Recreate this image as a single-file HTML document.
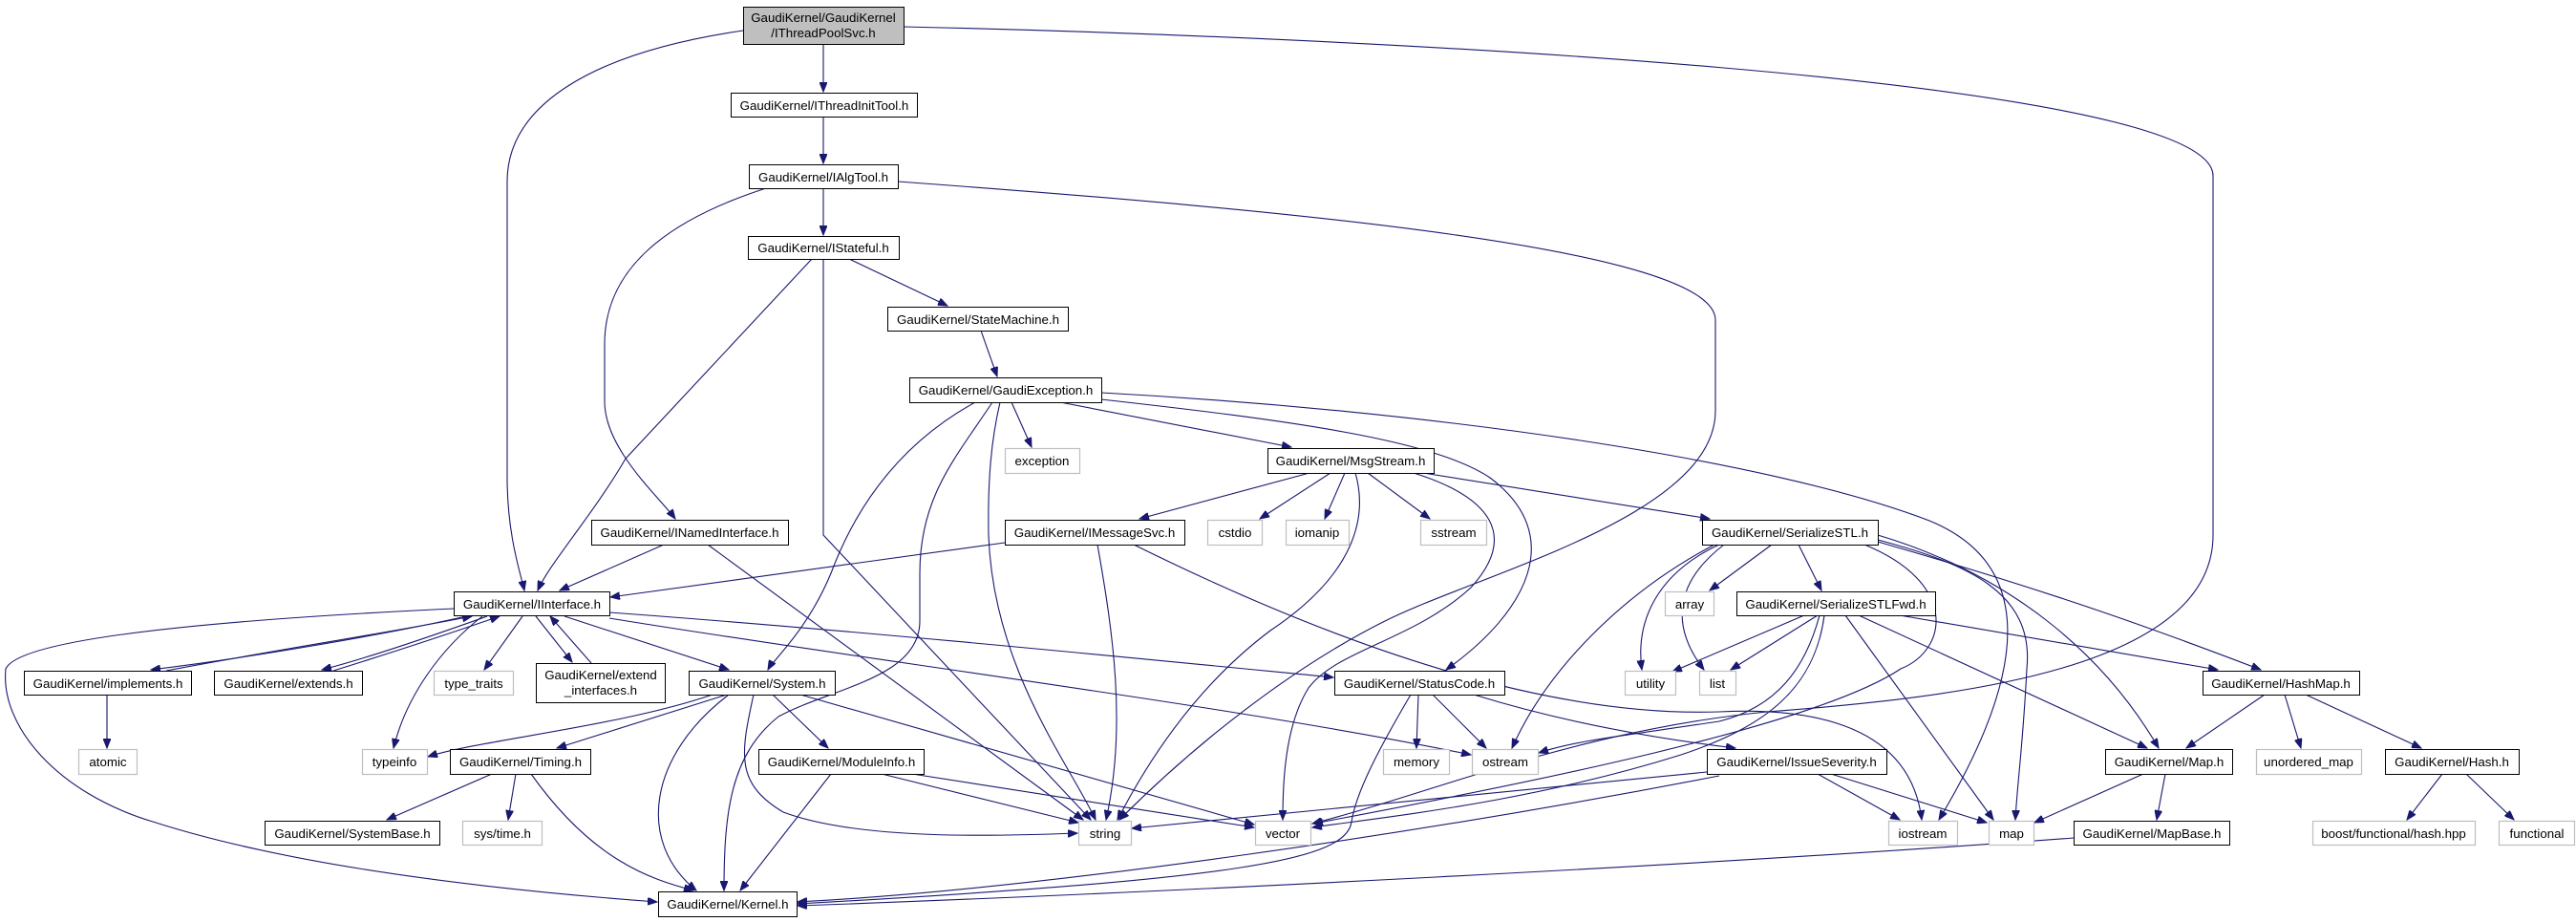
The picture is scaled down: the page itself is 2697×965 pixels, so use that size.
<!DOCTYPE html>
<html><head><meta charset="utf-8"><style>
html,body{margin:0;padding:0;background:#fff;}
svg{display:block;}
text{font-family:"Liberation Sans",Helvetica,Arial,sans-serif;font-size:13.3px;fill:#000;text-anchor:middle;}
.n{fill:#fff;stroke:#000;stroke-width:1;}
.x{fill:#fff;stroke:#bfbfbf;stroke-width:1.2;}
.r{fill:#bfbfbf;stroke:#000;stroke-width:1;}
path.e{fill:none;stroke:#191970;stroke-width:1.1;marker-end:url(#a);}
</style></head><body>
<svg width="2697" height="965" viewBox="0 0 2697 965" xmlns="http://www.w3.org/2000/svg">
<defs><marker id="a" markerUnits="userSpaceOnUse" markerWidth="11" markerHeight="8" refX="10" refY="4" orient="auto"><path d="M0,0 L10,4 L0,8 z" fill="#191970" stroke="#191970"/></marker></defs>
<g>
<path class="e" d="M862,47 L862,96"/>
<path class="e" d="M778,32 C620,55 531,110 531,190 L531,500 C531,560 545,600 549,618"/>
<path class="e" d="M946,28 C1400,38 2317,80 2317,184 L2317,560 C2317,700 2050,730 1850,745 C1650,765 1500,830 1374,862"/>
<path class="e" d="M862,122 L862,171"/>
<path class="e" d="M862,197 L862,246"/>
<path class="e" d="M802,197 C700,230 633,280 633,360 L633,420 C633,470 690,520 707,543"/>
<path class="e" d="M940,190 C1350,220 1796,260 1796,335 L1796,430 C1796,540 1550,600 1450,650 C1350,700 1250,780 1172,858"/>
<path class="e" d="M850,271 L655,480 C620,540 575,590 563,618"/>
<path class="e" d="M862,271 L862,560 L1142,858"/>
<path class="e" d="M889,271 L992,320"/>
<path class="e" d="M1027,346 L1044,394"/>
<path class="e" d="M1059,421 L1080,468"/>
<path class="e" d="M1110,421 L1352,468"/>
<path class="e" d="M1021,421 C950,460 900,520 870,600 C845,660 810,690 804,701"/>
<path class="e" d="M1039,421 C1000,480 963,520 963,600 L963,650 C963,710 870,720 815,750 C765,790 758,850 758,932"/>
<path class="e" d="M1047,421 C1038,460 1034,500 1035,560 C1040,700 1120,800 1147,858"/>
<path class="e" d="M1153,418 C1350,440 1500,460 1560,500 C1640,560 1600,640 1514,701"/>
<path class="e" d="M1153,411 C1500,430 1850,480 2020,545 C2130,590 2125,700 2030,858"/>
<path class="e" d="M1371,495 L1193,543"/>
<path class="e" d="M1393,495 L1319,543"/>
<path class="e" d="M1408,495 L1387,543"/>
<path class="e" d="M1432,495 L1497,543"/>
<path class="e" d="M1419,495 C1432,540 1420,600 1330,660 C1250,720 1200,800 1170,858"/>
<path class="e" d="M1480,495 C1560,520 1590,560 1540,615 C1480,670 1400,680 1370,720 C1345,760 1343,820 1343,858"/>
<path class="e" d="M1490,495 L1790,543"/>
<path class="e" d="M1052,568 L639,625"/>
<path class="e" d="M1149,570 C1165,660 1180,760 1158,858"/>
<path class="e" d="M1187,570 C1450,700 1650,750 1800,745 C1900,740 2000,760 2012,858"/>
<path class="e" d="M695,570 L586,618"/>
<path class="e" d="M741,570 L1134,858"/>
<path class="e" d="M488,645 C400,665 250,690 158,701"/>
<path class="e" d="M174,702 C290,680 420,660 494,645"/>
<path class="e" d="M510,645 C440,670 380,690 337,701"/>
<path class="e" d="M349,702 C420,680 480,660 523,645"/>
<path class="e" d="M547,645 L507,701"/>
<path class="e" d="M561,645 L599,693"/>
<path class="e" d="M619,694 L576,645"/>
<path class="e" d="M591,645 L763,701"/>
<path class="e" d="M505,645 C460,680 425,730 412,783"/>
<path class="e" d="M475,637 C200,650 20,670 6,700 C0,760 60,830 160,860 C300,905 500,930 688,944"/>
<path class="e" d="M638,641 C900,660 1200,690 1396,709"/>
<path class="e" d="M638,647 C900,690 1300,740 1540,790"/>
<path class="e" d="M112,727 L112,783"/>
<path class="e" d="M746,727 C650,760 500,775 448,792"/>
<path class="e" d="M761,727 L583,783"/>
<path class="e" d="M763,727 C680,790 665,880 729,932"/>
<path class="e" d="M789,727 C775,790 770,820 820,850 C900,880 1050,875 1128,872"/>
<path class="e" d="M809,727 L867,783"/>
<path class="e" d="M838,727 L1313,863"/>
<path class="e" d="M515,810 L405,858"/>
<path class="e" d="M540,810 L532,858"/>
<path class="e" d="M556,810 C620,900 680,920 726,932"/>
<path class="e" d="M870,810 L775,932"/>
<path class="e" d="M923,810 L1129,861"/>
<path class="e" d="M955,810 L1313,866"/>
<path class="e" d="M1485,727 L1483,783"/>
<path class="e" d="M1500,727 L1556,783"/>
<path class="e" d="M1477,727 C1440,790 1420,830 1415,860 C1410,900 1300,920 835,946"/>
<path class="e" d="M1543,727 C1650,760 1750,775 1817,783"/>
<path class="e" d="M1787,808 L1185,867"/>
<path class="e" d="M1903,810 L1989,858"/>
<path class="e" d="M1917,810 L2080,861"/>
<path class="e" d="M1800,812 C1500,870 1100,930 835,944"/>
<path class="e" d="M2171,877 C1800,905 1200,935 835,948"/>
<path class="e" d="M1883,570 L1907,618"/>
<path class="e" d="M1855,570 L1790,618"/>
<path class="e" d="M1800,570 C1735,600 1712,650 1719,701"/>
<path class="e" d="M1805,570 C1740,620 1760,670 1784,701"/>
<path class="e" d="M1795,570 C1700,620 1620,700 1583,783"/>
<path class="e" d="M1952,570 C2050,610 2040,680 1990,700 C1900,760 1600,820 1375,862"/>
<path class="e" d="M1966,565 C2060,590 2130,620 2122,700 C2118,780 2112,820 2110,858"/>
<path class="e" d="M1966,560 C2100,600 2200,680 2260,783"/>
<path class="e" d="M1966,567 C2150,620 2260,660 2367,701"/>
<path class="e" d="M1889,644 L1751,703"/>
<path class="e" d="M1903,644 L1812,701"/>
<path class="e" d="M1905,644 C1890,700 1860,740 1800,755 C1700,770 1650,775 1611,788"/>
<path class="e" d="M1910,644 C1900,720 1850,760 1760,790 C1600,840 1450,855 1374,866"/>
<path class="e" d="M1932,644 L2087,858"/>
<path class="e" d="M1946,644 L2248,783"/>
<path class="e" d="M1989,644 L2322,701"/>
<path class="e" d="M2371,727 L2289,783"/>
<path class="e" d="M2392,727 L2409,783"/>
<path class="e" d="M2414,727 L2535,783"/>
<path class="e" d="M2244,810 L2130,861"/>
<path class="e" d="M2267,810 L2258,858"/>
<path class="e" d="M2557,810 L2520,858"/>
<path class="e" d="M2582,810 L2632,858"/>
</g>
<g>
<rect class="r" x="778.5" y="7.5" width="168" height="39"/><text x="862" y="23">GaudiKernel/GaudiKernel</text><text x="862" y="39">/IThreadPoolSvc.h</text>
<rect class="n" x="765.5" y="97.5" width="195" height="25"/><text x="863" y="115">GaudiKernel/IThreadInitTool.h</text>
<rect class="n" x="784.5" y="172.5" width="156" height="25"/><text x="862" y="190">GaudiKernel/IAlgTool.h</text>
<rect class="n" x="783.5" y="247.5" width="158" height="24"/><text x="862" y="264">GaudiKernel/IStateful.h</text>
<rect class="n" x="929.5" y="321.5" width="189" height="25"/><text x="1024" y="339">GaudiKernel/StateMachine.h</text>
<rect class="n" x="952.5" y="395.5" width="201" height="26"/><text x="1053" y="413">GaudiKernel/GaudiException.h</text>
<rect class="x" x="1052.5" y="469.5" width="78" height="26"/><text x="1091" y="487">exception</text>
<rect class="n" x="1327.5" y="469.5" width="174" height="26"/><text x="1414" y="487">GaudiKernel/MsgStream.h</text>
<rect class="n" x="619.5" y="544.5" width="206" height="26"/><text x="722" y="562">GaudiKernel/INamedInterface.h</text>
<rect class="n" x="1052.5" y="544.5" width="188" height="26"/><text x="1146" y="562">GaudiKernel/IMessageSvc.h</text>
<rect class="x" x="1264.5" y="544.5" width="57" height="26"/><text x="1293" y="562">cstdio</text>
<rect class="x" x="1346.5" y="544.5" width="66" height="26"/><text x="1379" y="562">iomanip</text>
<rect class="x" x="1487.5" y="544.5" width="69" height="26"/><text x="1522" y="562">sstream</text>
<rect class="n" x="1782.5" y="544.5" width="184" height="26"/><text x="1874" y="562">GaudiKernel/SerializeSTL.h</text>
<rect class="n" x="475.5" y="619.5" width="163" height="25"/><text x="557" y="637">GaudiKernel/IInterface.h</text>
<rect class="x" x="1743.5" y="619.5" width="51" height="25"/><text x="1769" y="637">array</text>
<rect class="n" x="1818.5" y="619.5" width="208" height="25"/><text x="1922" y="637">GaudiKernel/SerializeSTLFwd.h</text>
<rect class="n" x="25.5" y="702.5" width="175" height="25"/><text x="113" y="720">GaudiKernel/implements.h</text>
<rect class="n" x="224.5" y="702.5" width="155" height="25"/><text x="302" y="720">GaudiKernel/extends.h</text>
<rect class="x" x="454.5" y="702.5" width="83" height="25"/><text x="496" y="720">type_traits</text>
<rect class="n" x="561.5" y="694.5" width="135" height="41"/><text x="629" y="711">GaudiKernel/extend</text><text x="629" y="727">_interfaces.h</text>
<rect class="n" x="721.5" y="702.5" width="153" height="25"/><text x="798" y="720">GaudiKernel/System.h</text>
<rect class="n" x="1397.5" y="702.5" width="178" height="25"/><text x="1486" y="720">GaudiKernel/StatusCode.h</text>
<rect class="x" x="1701.5" y="702.5" width="53" height="25"/><text x="1728" y="720">utility</text>
<rect class="x" x="1779.5" y="702.5" width="38" height="25"/><text x="1798" y="720">list</text>
<rect class="n" x="2306.5" y="702.5" width="164" height="25"/><text x="2388" y="720">GaudiKernel/HashMap.h</text>
<rect class="x" x="82.5" y="784.5" width="61" height="26"/><text x="113" y="802">atomic</text>
<rect class="x" x="379.5" y="784.5" width="68" height="26"/><text x="413" y="802">typeinfo</text>
<rect class="n" x="471.5" y="784.5" width="147" height="26"/><text x="545" y="802">GaudiKernel/Timing.h</text>
<rect class="n" x="794.5" y="784.5" width="173" height="26"/><text x="881" y="802">GaudiKernel/ModuleInfo.h</text>
<rect class="x" x="1448.5" y="784.5" width="69" height="26"/><text x="1483" y="802">memory</text>
<rect class="x" x="1541.5" y="784.5" width="69" height="26"/><text x="1576" y="802">ostream</text>
<rect class="n" x="1787.5" y="784.5" width="188" height="26"/><text x="1881" y="802">GaudiKernel/IssueSeverity.h</text>
<rect class="n" x="2204.5" y="784.5" width="133" height="26"/><text x="2271" y="802">GaudiKernel/Map.h</text>
<rect class="x" x="2362.5" y="784.5" width="110" height="26"/><text x="2417" y="802">unordered_map</text>
<rect class="n" x="2497.5" y="784.5" width="140" height="26"/><text x="2567" y="802">GaudiKernel/Hash.h</text>
<rect class="n" x="277.5" y="859.5" width="183" height="25"/><text x="369" y="877">GaudiKernel/SystemBase.h</text>
<rect class="x" x="484.5" y="859.5" width="83" height="25"/><text x="526" y="877">sys/time.h</text>
<rect class="x" x="1129.5" y="859.5" width="55" height="25"/><text x="1157" y="877">string</text>
<rect class="x" x="1314.5" y="859.5" width="58" height="25"/><text x="1343" y="877">vector</text>
<rect class="x" x="1977.5" y="859.5" width="72" height="25"/><text x="2013" y="877">iostream</text>
<rect class="x" x="2082.5" y="859.5" width="47" height="25"/><text x="2106" y="877">map</text>
<rect class="n" x="2171.5" y="859.5" width="163" height="25"/><text x="2253" y="877">GaudiKernel/MapBase.h</text>
<rect class="x" x="2421.5" y="859.5" width="170" height="25"/><text x="2506" y="877">boost/functional/hash.hpp</text>
<rect class="x" x="2616.5" y="859.5" width="79" height="25"/><text x="2656" y="877">functional</text>
<rect class="n" x="689.5" y="933.5" width="145" height="26"/><text x="762" y="951">GaudiKernel/Kernel.h</text>
</g>
</svg>
</body></html>
